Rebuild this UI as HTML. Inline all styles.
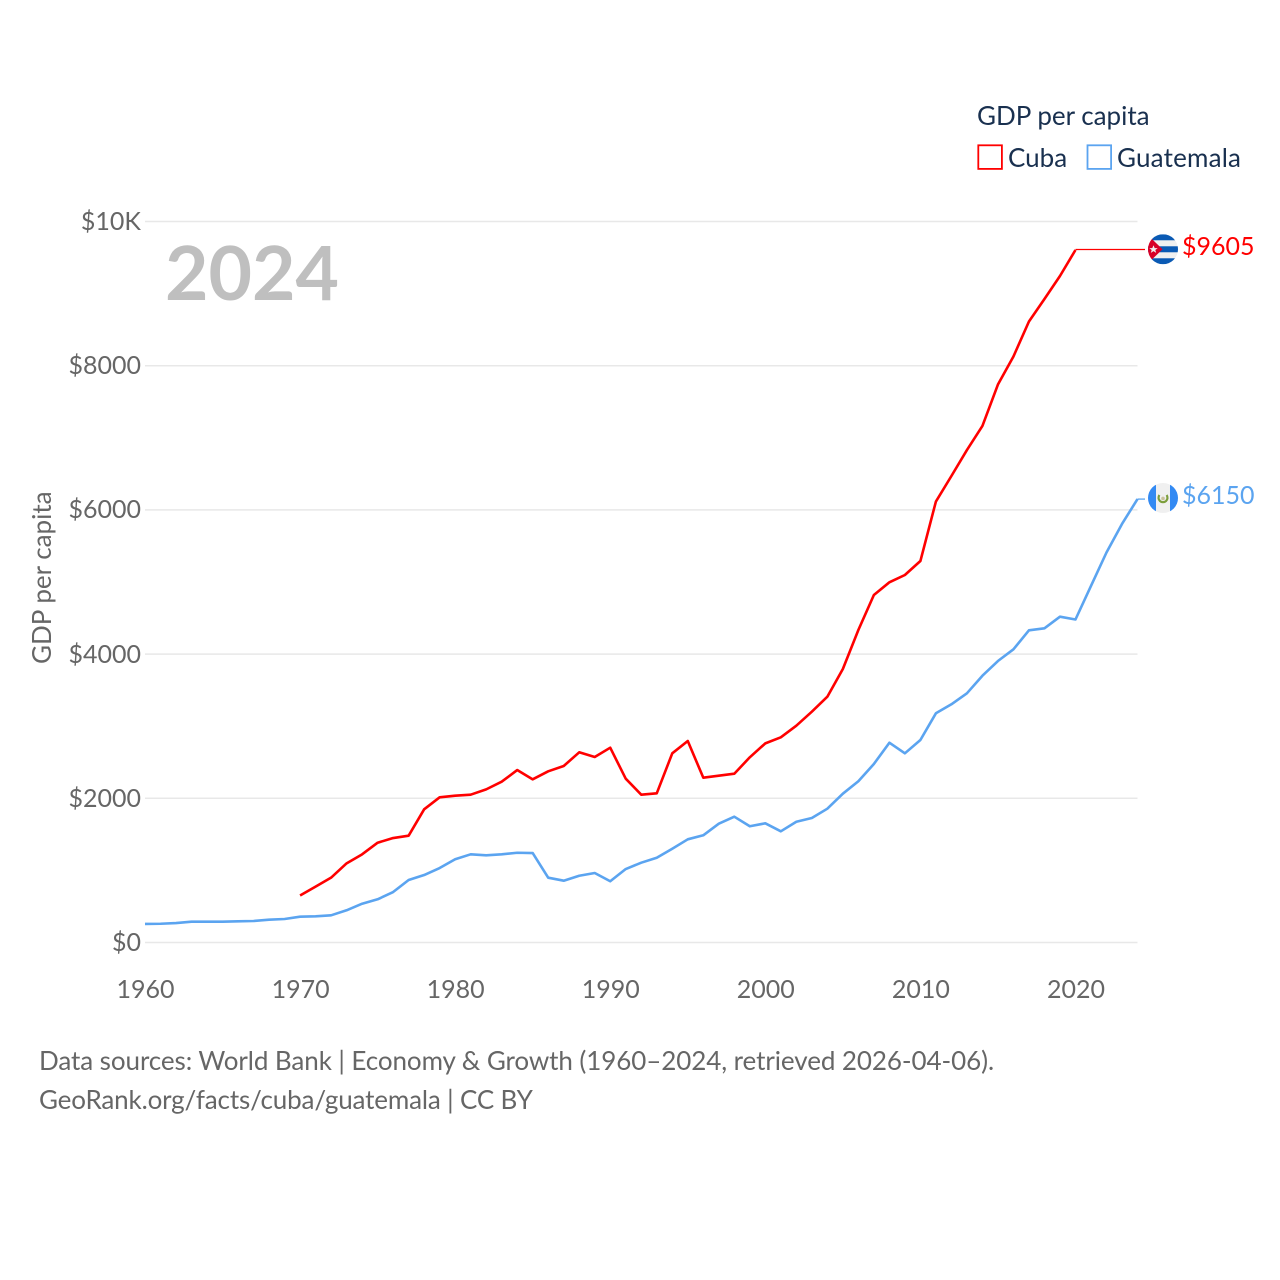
<!DOCTYPE html>
<html lang="en">
<head>
<meta charset="utf-8">
<title>GDP per capita: Cuba and Guatemala</title>
<style>
html,body{margin:0;padding:0;background:#fff;}
#stage{position:relative;width:1280px;height:1280px;overflow:hidden;font-family:"Lato","Carlito","Liberation Sans",sans-serif;}
svg{display:block;position:absolute;left:0;top:0;}
.t{position:absolute;white-space:nowrap;font-size:25px;line-height:30px;height:30px;color:#666666;}
.w{font-size:26px;}
.navy{color:#19304f;}
</style>
</head>
<body>
<div id="stage">
<svg id="chart" width="1280" height="1280" viewBox="0 0 1280 1280" xmlns="http://www.w3.org/2000/svg">
  <rect x="0" y="0" width="1280" height="1280" fill="#ffffff"/>
  <defs>
    <clipPath id="flag-clip-cuba"><circle cx="0" cy="0" r="15"/></clipPath>
    <clipPath id="flag-clip-guatemala"><circle cx="0" cy="0" r="15"/></clipPath>
  </defs>
  <g id="grid"></g>
  <g id="series"></g>
  <g id="flag-cuba">
    <g clip-path="url(#flag-clip-cuba)">
      <rect x="-15" y="-15" width="30" height="30" fill="#f0f0f0"/>
      <rect x="-15" y="-15" width="30" height="6" fill="#0a5ab4"/>
      <rect x="-15" y="-3" width="30" height="6" fill="#0a5ab4"/>
      <rect x="-15" y="9" width="30" height="6" fill="#0a5ab4"/>
      <polygon points="-15,-14 -0.5,0 -15,14" fill="#d80027"/>
      <polygon points="-9.5,-4 -8.3,-1.2 -5.3,-1.2 -7.7,0.7 -6.8,3.6 -9.5,1.9 -12.2,3.6 -11.3,0.7 -13.7,-1.2 -10.7,-1.2" fill="#f0f0f0"/>
    </g>
  </g>
  <g id="flag-guatemala">
    <g clip-path="url(#flag-clip-guatemala)">
      <rect x="-15" y="-15" width="30" height="30" fill="#f0f0f0"/>
      <rect x="-15" y="-15" width="8" height="30" fill="#338af3"/>
      <rect x="7" y="-15" width="8" height="30" fill="#338af3"/>
      <path d="M-3.6,-3 A4.5,4.5 0 1 0 3.6,-3" fill="none" stroke="#7c9e3c" stroke-width="2.2"/>
      <circle cx="0" cy="0.5" r="1.8" fill="#c9c19a"/>
    </g>
  </g>
  <rect x="978.3" y="145.3" width="23.6" height="23.6" fill="none" stroke="#ff0000" stroke-width="1.8"/>
  <rect x="1087.5" y="145.3" width="23.6" height="23.6" fill="none" stroke="#5ba4f0" stroke-width="1.8"/>
</svg>
<div class="t" style="left:165px;top:226px;font-size:75px;line-height:90px;height:90px;font-weight:700;color:#bfbfbf;">2024</div>
<div class="t w" style="left:26px;top:664px;transform-origin:0 0;transform:rotate(-90deg);">GDP per capita</div>
<div class="t w navy" style="left:977px;top:100px;">GDP per capita</div>
<div class="t w navy" style="left:1008px;top:142px;">Cuba</div>
<div class="t w navy" style="left:1117px;top:142px;letter-spacing:0.2px;">Guatemala</div>
<div class="t w" style="left:39px;top:1045px;letter-spacing:-0.08px;">Data sources: World Bank | Economy &amp; Growth (1960–2024, retrieved 2026-04-06).</div>
<div class="t w" style="left:39px;top:1084px;letter-spacing:-0.15px;">GeoRank.org/facts/cuba/guatemala | CC BY</div>
<div class="t" id="label-cuba" style="left:1182px;color:#ff0000;"></div>
<div class="t" id="label-guatemala" style="left:1182px;color:#5ba4f0;"></div>
</div>
<script>
const yTickValues = [0, 2000, 4000, 6000, 8000, 10000];
const yTickLabels = ["$0", "$2000", "$4000", "$6000", "$8000", "$10K"];
const xTickYears = [1960, 1970, 1980, 1990, 2000, 2010, 2020];
const guatemalaStartYear = 1960;
const guatemalaValues = [257, 260, 270, 289, 289, 289, 294, 298, 316, 326,
  358, 363, 377, 447, 538, 599, 700, 867, 936, 1033,
  1154, 1223, 1209, 1223, 1245, 1241, 899, 857, 926, 964,
  849, 1019, 1107, 1176, 1301, 1431, 1487, 1648, 1745, 1612,
  1653, 1542, 1675, 1727, 1856, 2064, 2236, 2476, 2771, 2624,
  2809, 3179, 3304, 3456, 3700, 3904, 4066, 4330, 4358, 4519,
  4480, 4945, 5409, 5805, 6150];
const cubaStartYear = 1970;
const cubaValues = [652, 775, 899, 1098, 1223, 1384, 1449, 1481, 1847, 2014,
  2036, 2050, 2124, 2230, 2392, 2263, 2374, 2448, 2638, 2573,
  2702, 2272, 2050, 2069, 2624, 2795, 2286, 2314, 2341, 2569,
  2762, 2846, 3007, 3201, 3409, 3793, 4334, 4820, 4996, 5097,
  5291, 6116, 6470, 6830, 7164, 7739, 8128, 8613, 8925, 9244,
  9605];

const SVG_NS = "http://www.w3.org/2000/svg";
const xLeft = 145, xRight = 1137.5, yearMin = 1960, yearMax = 2024;
const yBottom = 942.5, yTop = 221.5, valueMax = 10000;
const connectorEnd = 1145, flagCx = 1163;
const CUBA_COLOR = "#ff0000", GUATEMALA_COLOR = "#5ba4f0";

function xScale(year) {
  return xLeft + (year - yearMin) / (yearMax - yearMin) * (xRight - xLeft);
}
function yScale(value) {
  return yBottom - value / valueMax * (yBottom - yTop);
}
function make(tag, attrs, parent) {
  const el = document.createElementNS(SVG_NS, tag);
  Object.keys(attrs).forEach(function (k) { el.setAttribute(k, attrs[k]); });
  parent.appendChild(el);
  return el;
}

const stage = document.getElementById("stage");
const gridGroup = document.getElementById("grid");
const seriesGroup = document.getElementById("series");

yTickValues.forEach(function (value, i) {
  const y = yScale(value);
  const line = make("line", { x1: xLeft, x2: xRight, y1: y, y2: y, stroke: "#e8e8e8", "stroke-width": 1.5 }, gridGroup);
  
  
  const label = document.createElement("div");
  
  
  label.className = "t";
  label.style.left = "41px";
  label.style.width = "100px";
  label.style.textAlign = "right";
  label.style.top = Math.round(y - 15.5) + "px";
  label.textContent = yTickLabels[i];
  stage.appendChild(label);
});

xTickYears.forEach(function (year) {
  const label = document.createElement("div");
  
  
  label.className = "t";
  label.style.left = (xScale(year) - 49.5) + "px";
  label.style.width = "100px";
  label.style.textAlign = "center";
  label.style.top = "974px";
  label.textContent = String(year);
  stage.appendChild(label);
});

function seriesPoints(startYear, values) {
  return values.map(function (v, i) {
    return xScale(startYear + i).toFixed(2) + "," + yScale(v).toFixed(2);
  }).join(" ");
}

const guatemalaLine = make("polyline", { points: seriesPoints(guatemalaStartYear, guatemalaValues), fill: "none", stroke: GUATEMALA_COLOR, "stroke-width": 2.6, "stroke-linejoin": "round" }, seriesGroup);



const cubaLine = make("polyline", { points: seriesPoints(cubaStartYear, cubaValues), fill: "none", stroke: CUBA_COLOR, "stroke-width": 2.6, "stroke-linejoin": "round" }, seriesGroup);



const cubaLast = cubaValues[cubaValues.length - 1];
const guatemalaLast = guatemalaValues[guatemalaValues.length - 1];
const cubaLastYear = cubaStartYear + cubaValues.length - 1;
const guatemalaLastYear = guatemalaStartYear + guatemalaValues.length - 1;

const cubaConnector = make("line", { x1: xScale(cubaLastYear), x2: connectorEnd, y1: yScale(cubaLast) - 0.5, y2: yScale(cubaLast) - 0.5, stroke: CUBA_COLOR, "stroke-width": 1.3 }, seriesGroup);



const guatemalaConnector = make("line", { x1: xScale(guatemalaLastYear), x2: connectorEnd, y1: yScale(guatemalaLast), y2: yScale(guatemalaLast), stroke: GUATEMALA_COLOR, "stroke-width": 1.3 }, seriesGroup);



document.getElementById("flag-cuba").setAttribute("transform", "translate(" + flagCx + "," + (yScale(cubaLast) - 0.7) + ")");
document.getElementById("flag-guatemala").setAttribute("transform", "translate(" + flagCx + "," + (yScale(guatemalaLast) - 1.1) + ")");

const cubaLabel = document.getElementById("label-cuba");
cubaLabel.style.top = Math.round(yScale(cubaLast) - 19) + "px";
cubaLabel.textContent = "$" + cubaLast;
const guatemalaLabel = document.getElementById("label-guatemala");
guatemalaLabel.style.top = Math.round(yScale(guatemalaLast) - 19) + "px";
guatemalaLabel.textContent = "$" + guatemalaLast;
</script>
</body>
</html>
